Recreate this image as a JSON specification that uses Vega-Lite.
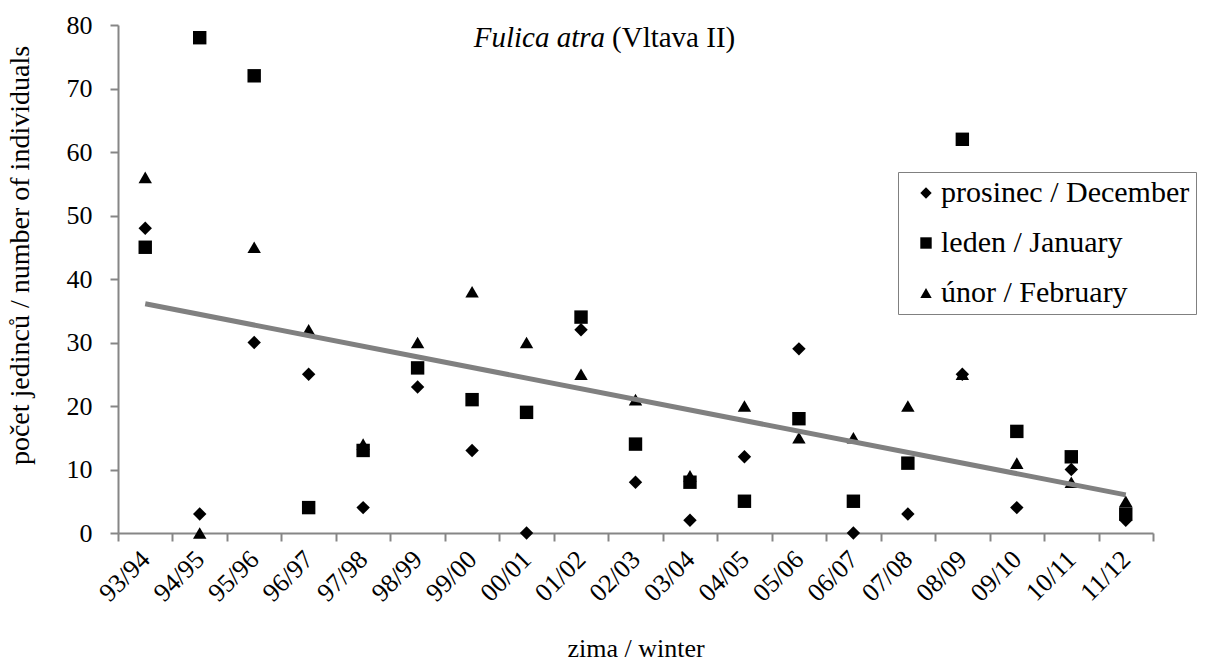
{
  "$schema": "https://vega.github.io/schema/vega-lite/v6.json",
  "autosize": {"type": "none"},
  "width": 1035,
  "height": 508,
  "padding": {"left": 118, "top": 25, "right": 52, "bottom": 128},
  "background": "white",
  "config": {
    "view": {"stroke": null},
    "font": "Liberation Serif",
    "axis": {
      "labelFont": "Liberation Serif",
      "titleFont": "Liberation Serif",
      "labelColor": "black",
      "titleColor": "black",
      "titleFontWeight": "normal",
      "domainColor": "#868686",
      "domainWidth": 2,
      "tickColor": "#868686",
      "tickWidth": 2,
      "grid": false
    },
    "legend": {
      "labelFont": "Liberation Serif",
      "labelColor": "black"
    }
  },
  "datasets": {
    "counts": [
      {"winter": "93/94", "month": "prosinec / December", "count": 48},
      {"winter": "93/94", "month": "leden / January", "count": 45},
      {"winter": "93/94", "month": "únor / February", "count": 56},
      {"winter": "94/95", "month": "prosinec / December", "count": 3},
      {"winter": "94/95", "month": "leden / January", "count": 78},
      {"winter": "94/95", "month": "únor / February", "count": 0},
      {"winter": "95/96", "month": "prosinec / December", "count": 30},
      {"winter": "95/96", "month": "leden / January", "count": 72},
      {"winter": "95/96", "month": "únor / February", "count": 45},
      {"winter": "96/97", "month": "prosinec / December", "count": 25},
      {"winter": "96/97", "month": "leden / January", "count": 4},
      {"winter": "96/97", "month": "únor / February", "count": 32},
      {"winter": "97/98", "month": "prosinec / December", "count": 4},
      {"winter": "97/98", "month": "leden / January", "count": 13},
      {"winter": "97/98", "month": "únor / February", "count": 14},
      {"winter": "98/99", "month": "prosinec / December", "count": 23},
      {"winter": "98/99", "month": "leden / January", "count": 26},
      {"winter": "98/99", "month": "únor / February", "count": 30},
      {"winter": "99/00", "month": "prosinec / December", "count": 13},
      {"winter": "99/00", "month": "leden / January", "count": 21},
      {"winter": "99/00", "month": "únor / February", "count": 38},
      {"winter": "00/01", "month": "prosinec / December", "count": 0},
      {"winter": "00/01", "month": "leden / January", "count": 19},
      {"winter": "00/01", "month": "únor / February", "count": 30},
      {"winter": "01/02", "month": "prosinec / December", "count": 32},
      {"winter": "01/02", "month": "leden / January", "count": 34},
      {"winter": "01/02", "month": "únor / February", "count": 25},
      {"winter": "02/03", "month": "prosinec / December", "count": 8},
      {"winter": "02/03", "month": "leden / January", "count": 14},
      {"winter": "02/03", "month": "únor / February", "count": 21},
      {"winter": "03/04", "month": "prosinec / December", "count": 2},
      {"winter": "03/04", "month": "leden / January", "count": 8},
      {"winter": "03/04", "month": "únor / February", "count": 9},
      {"winter": "04/05", "month": "prosinec / December", "count": 12},
      {"winter": "04/05", "month": "leden / January", "count": 5},
      {"winter": "04/05", "month": "únor / February", "count": 20},
      {"winter": "05/06", "month": "prosinec / December", "count": 29},
      {"winter": "05/06", "month": "leden / January", "count": 18},
      {"winter": "05/06", "month": "únor / February", "count": 15},
      {"winter": "06/07", "month": "prosinec / December", "count": 0},
      {"winter": "06/07", "month": "leden / January", "count": 5},
      {"winter": "06/07", "month": "únor / February", "count": 15},
      {"winter": "07/08", "month": "prosinec / December", "count": 3},
      {"winter": "07/08", "month": "leden / January", "count": 11},
      {"winter": "07/08", "month": "únor / February", "count": 20},
      {"winter": "08/09", "month": "prosinec / December", "count": 25},
      {"winter": "08/09", "month": "leden / January", "count": 62},
      {"winter": "08/09", "month": "únor / February", "count": 25},
      {"winter": "09/10", "month": "prosinec / December", "count": 4},
      {"winter": "09/10", "month": "leden / January", "count": 16},
      {"winter": "09/10", "month": "únor / February", "count": 11},
      {"winter": "10/11", "month": "prosinec / December", "count": 10},
      {"winter": "10/11", "month": "leden / January", "count": 12},
      {"winter": "10/11", "month": "únor / February", "count": 8},
      {"winter": "11/12", "month": "prosinec / December", "count": 2},
      {"winter": "11/12", "month": "leden / January", "count": 3},
      {"winter": "11/12", "month": "únor / February", "count": 5}
    ],
    "trend": [
      {"winter": "93/94", "trend": 36.1},
      {"winter": "11/12", "trend": 6.0}
    ],
    "heading": [
      {"winter": "01/02", "ypos": 76.5, "part": "Fulica atra", "kind": "latin"},
      {"winter": "01/02", "ypos": 76.5, "part": "(Vltava II)", "kind": "place"}
    ]
  },
  "layer": [
    {
      "data": {"name": "counts"},
      "mark": {"type": "point", "filled": true, "opacity": 1, "size": 180, "strokeWidth": 0},
      "encoding": {
        "x": {
          "field": "winter",
          "type": "nominal",
          "sort": null,
          "scale": {"paddingInner": 0, "paddingOuter": 0},
          "axis": {
            "title": "zima / winter",
            "titleFont": "Liberation Serif",
            "titleFontSize": 26,
            "titleY": 123,
            "titleBaseline": "alphabetic",
            "labelFont": "Liberation Serif",
            "labelAngle": -45,
            "labelFontSize": 26,
            "labelAlign": "right",
            "labelBaseline": "middle",
            "labelPadding": 14,
            "tickBand": "extent",
            "tickSize": 8
          }
        },
        "y": {
          "field": "count",
          "type": "quantitative",
          "scale": {"domain": [0, 80], "nice": false, "zero": true},
          "axis": {
            "values": [0, 10, 20, 30, 40, 50, 60, 70, 80],
            "title": "počet jedinců / number of individuals",
            "titleFont": "Liberation Serif",
            "titleFontSize": 28,
            "titleAngle": -90,
            "titleX": -90,
            "titleY": 230,
            "titleAlign": "center",
            "titleBaseline": "alphabetic",
            "labelFont": "Liberation Serif",
            "labelFontSize": 26,
            "labelPadding": 18,
            "tickSize": 8
          }
        },
        "shape": {
          "field": "month",
          "type": "nominal",
          "scale": {
            "domain": ["prosinec / December", "leden / January", "únor / February"],
            "range": ["diamond", "square", "triangle-up"]
          },
          "legend": {
            "title": null,
            "orient": "none",
            "legendX": 780,
            "legendY": 147,
            "padding": 6,
            "rowPadding": 20,
            "strokeColor": "#808080",
            "fillColor": "white",
            "labelFont": "Liberation Serif",
            "labelFontSize": 30,
            "labelLimit": 500,
            "labelOffset": 0,
            "symbolOffset": 7,
            "symbolSize": 130,
            "symbolFillColor": "black",
            "symbolStrokeWidth": 0,
            "encode": {"legend": {"update": {"strokeWidth": {"value": 2}}}}
          }
        },
        "color": {"value": "black"}
      }
    },
    {
      "data": {"name": "trend"},
      "mark": {"type": "line", "color": "#808080", "strokeWidth": 5},
      "encoding": {
        "x": {"field": "winter", "type": "nominal", "sort": null},
        "y": {"field": "trend", "type": "quantitative"}
      }
    },
    {
      "data": {"name": "heading"},
      "transform": [{"filter": "datum.kind === 'latin'"}],
      "mark": {"type": "text", "fontStyle": "italic", "fontSize": 29, "align": "right", "baseline": "alphabetic", "dx": 24, "color": "black", "font": "Liberation Serif"},
      "encoding": {
        "x": {"field": "winter", "type": "nominal", "sort": null},
        "y": {"field": "ypos", "type": "quantitative"},
        "text": {"field": "part"}
      }
    },
    {
      "data": {"name": "heading"},
      "transform": [{"filter": "datum.kind === 'place'"}],
      "mark": {"type": "text", "fontSize": 29, "align": "left", "baseline": "alphabetic", "dx": 31, "color": "black", "font": "Liberation Serif"},
      "encoding": {
        "x": {"field": "winter", "type": "nominal", "sort": null},
        "y": {"field": "ypos", "type": "quantitative"},
        "text": {"field": "part"}
      }
    }
  ]
}
